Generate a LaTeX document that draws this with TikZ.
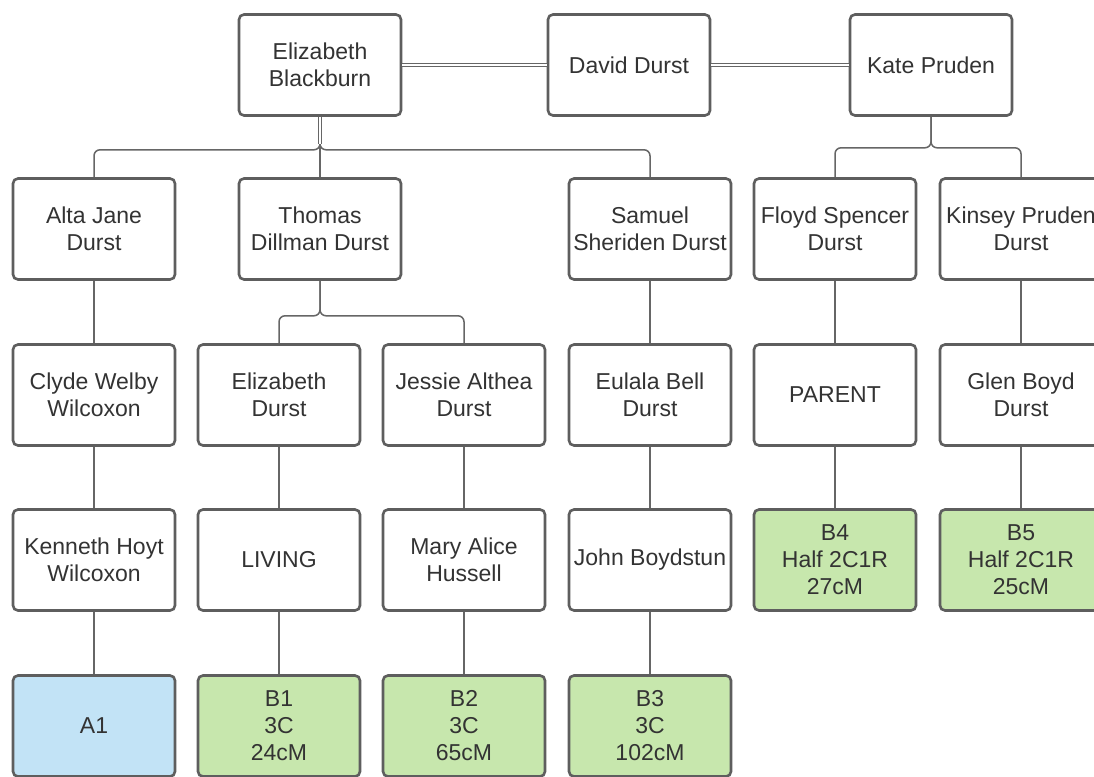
\documentclass[tikz,border=0pt]{standalone}
\usepackage{fontspec}
\setmainfont{Liberation Sans}
\definecolor{boxline}{HTML}{5E5E5E}
\definecolor{connline}{HTML}{666666}
\definecolor{txt}{HTML}{333333}
\definecolor{bluefill}{HTML}{C2E3F6}
\definecolor{greenfill}{HTML}{C7E7AD}
\tikzset{
  person/.style={draw=boxline, line width=2.6pt, rounded corners=5pt, fill=white,
    minimum width=162pt, minimum height=101pt, inner sep=0pt, align=center,
    text=txt, font=\fontsize{23}{27}\selectfont},
  match/.style={person, fill=greenfill},
  self/.style={person, fill=bluefill},
  conn/.style={draw=connline, line width=1.5pt, rounded corners=6pt},
  dbl/.style={draw=connline, line width=1.1pt, double=white, double distance=2.2pt}
}
\begin{document}
\begin{tikzpicture}[x=1pt,y=-1pt]
\useasboundingbox (0,0) rectangle (1094,776);
\clip (0,0) rectangle (1094,776);
\fill[white] (0,0) rectangle (1094,776);
% row 1
\node[person] (eb) at (320,65) {Elizabeth\\Blackburn};
\node[person] (dd) at (629,65) {David Durst};
\node[person] (kp) at (931,65) {Kate Pruden};
% row 2
\node[person] (alta) at (94,229) {Alta Jane\\Durst};
\node[person] (thomas) at (320,229) {Thomas\\Dillman Durst};
\node[person] (samuel) at (650,229) {Samuel\\Sheriden Durst};
\node[person] (floyd) at (835,229) {Floyd Spencer\\Durst};
\node[person] (kinsey) at (1021,229) {Kinsey Pruden\\Durst};
% row 3
\node[person] (clyde) at (94,395) {Clyde Welby\\Wilcoxon};
\node[person] (elizd) at (279,395) {Elizabeth\\Durst};
\node[person] (jessie) at (464,395) {Jessie Althea\\Durst};
\node[person] (eulala) at (650,395) {Eulala Bell\\Durst};
\node[person] (parent) at (835,395) {PARENT};
\node[person] (glen) at (1021,395) {Glen Boyd\\Durst};
% row 4
\node[person] (kenneth) at (94,560) {Kenneth Hoyt\\Wilcoxon};
\node[person] (living) at (279,560) {LIVING};
\node[person] (mary) at (464,560) {Mary Alice\\Hussell};
\node[person] (john) at (650,560) {John Boydstun};
\node[match] (b4) at (835,560) {B4\\Half 2C1R\\27cM};
\node[match] (b5) at (1021,560) {B5\\Half 2C1R\\25cM};
% row 5
\node[self] (a1) at (94,726) {A1};
\node[match] (b1) at (279,726) {B1\\3C\\24cM};
\node[match] (b2) at (464,726) {B2\\3C\\65cM};
\node[match] (b3) at (650,726) {B3\\3C\\102cM};
% couples
\draw[dbl] (eb.east) -- (dd.west);
\draw[dbl] (dd.east) -- (kp.west);
% children of Elizabeth & David
\draw[conn] (eb.south) -- ++(0,33) -| (alta.north);
\draw[conn] (eb.south) -- ++(0,33) -| (samuel.north);
\draw[conn] (eb.south) -- (thomas.north);
\coordinate (ebj) at ([yshift=-27pt]eb.south);
\draw[dbl] (eb.south) -- (ebj);
% children of Kate & David
\draw[conn] (kp.south) -- ++(0,31) -| (floyd.north);
\draw[conn] (kp.south) -- ++(0,31) -| (kinsey.north);
% children of Thomas
\draw[conn] (thomas.south) -- ++(0,35) -| (elizd.north);
\draw[conn] (thomas.south) -- ++(0,35) -| (jessie.north);
% lines of descent
\draw[conn] (alta.south) -- (clyde.north);
\draw[conn] (clyde.south) -- (kenneth.north);
\draw[conn] (kenneth.south) -- (a1.north);
\draw[conn] (elizd.south) -- (living.north);
\draw[conn] (living.south) -- (b1.north);
\draw[conn] (jessie.south) -- (mary.north);
\draw[conn] (mary.south) -- (b2.north);
\draw[conn] (samuel.south) -- (eulala.north);
\draw[conn] (eulala.south) -- (john.north);
\draw[conn] (john.south) -- (b3.north);
\draw[conn] (floyd.south) -- (parent.north);
\draw[conn] (parent.south) -- (b4.north);
\draw[conn] (kinsey.south) -- (glen.north);
\draw[conn] (glen.south) -- (b5.north);
\end{tikzpicture}
\end{document}
